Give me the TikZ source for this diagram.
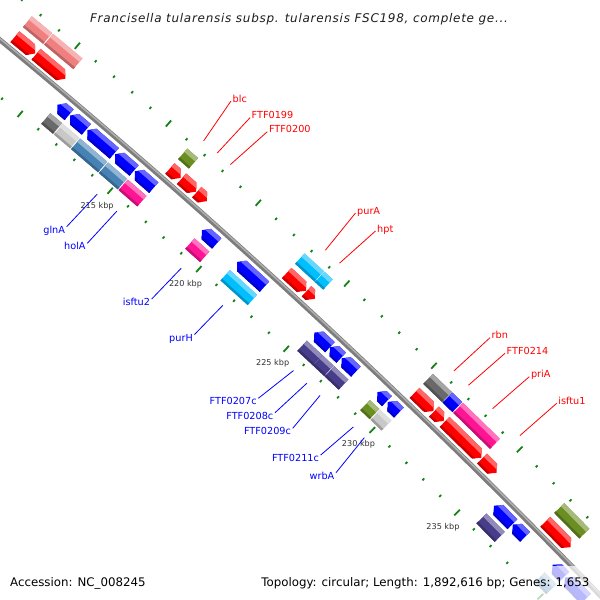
\documentclass[tikz,border=0pt]{standalone}
\usepackage{fontspec}
\setmainfont{DejaVu Sans}
\usetikzlibrary{calc}
\definecolor{gred}{RGB}{255,0,0}
\definecolor{gblue}{RGB}{0,0,255}
\definecolor{csalmon}{RGB}{240,128,128}
\definecolor{colive}{RGB}{107,142,35}
\definecolor{ccyan}{RGB}{0,191,255}
\definecolor{cdgray}{RGB}{105,105,105}
\definecolor{clgray}{RGB}{200,200,200}
\definecolor{csteel}{RGB}{70,130,180}
\definecolor{cpink}{RGB}{255,20,147}
\definecolor{cslate}{RGB}{72,61,139}
\definecolor{tickgreen}{RGB}{20,130,20}
\definecolor{kbpgray}{RGB}{50,50,50}
\def\gw{7}
% gene: start kbp, end kbp, radius, shape (f/r/b), colour
\newcommand\gene[5]{%
  \edef\ga{\fpeval{round(49.045-(((#1)+(#2))/2-215)*0.190213,5)}}%
  \edef\gh{\fpeval{round(((#2)-(#1))*0.00165993*(#3),3)}}%
  \edef\gx{\fpeval{round(-4562+(#3)*cosd(\ga),3)}}%
  \edef\gy{\fpeval{round(-5574+(#3)*sind(\ga),3)}}%
  \edef\gt{\fpeval{round(min(6,1.2*\gh),3)}}%
  \edef\gb{\fpeval{round(\gh-\gt,3)}}%
  \if#4f\def\gp{(-\gh,-\gw) -- (\gb,-\gw) -- (\gh,0) -- (\gb,\gw) -- (-\gh,\gw) -- cycle}\fi
  \if#4r\def\gp{(\gh,-\gw) -- (-\gb,-\gw) -- (-\gh,0) -- (-\gb,\gw) -- (\gh,\gw) -- cycle}\fi
  \if#4b\def\gp{(-\gh,-\gw) -- (\gh,-\gw) -- (\gh,\gw) -- (-\gh,\gw) -- cycle}\fi
  \begin{scope}[shift={(\gx,\gy)},rotate=\ga-90]
    \clip \gp;
    \fill[#5] (-\gh-1,-\gw-1) rectangle (\gh+1,\gw+1);
    \fill[#5!60!white] (-\gh-1,0.35*\gw) rectangle (\gh+1,\gw+1);
    \fill[#5!78!black] (-\gh-1,-\gw-1) rectangle (\gh+1,-0.65*\gw);
  \end{scope}}
% tick marks on both rulers
\newcommand\tickpair[1]{%
  \edef\ta{\fpeval{49.045-(#1-215)*0.190213}}%
  \ifnum\fpeval{#1-5*trunc(#1/5)}=0 \def\tl{4}\else\def\tl{1.3}\fi
  \foreach \rr in {7128,7217}{%
    \edef\xa{\fpeval{round(-4562+(\rr-\tl)*cosd(\ta),3)}}%
    \edef\ya{\fpeval{round(-5574+(\rr-\tl)*sind(\ta),3)}}%
    \edef\xb{\fpeval{round(-4562+(\rr+\tl)*cosd(\ta),3)}}%
    \edef\yb{\fpeval{round(-5574+(\rr+\tl)*sind(\ta),3)}}%
    \draw[tickst] (\xa,\ya) -- (\xb,\yb);}}
% kbp label
\newcommand\kbp[1]{%
  \edef\ta{\fpeval{49.045-(#1-215)*0.190213}}%
  \edef\xa{\fpeval{round(-4562+7108*cosd(\ta),3)}}%
  \edef\ya{\fpeval{round(-5574+7108*sind(\ta),3)}}%
  \node[kbpst] (k#1) at (\xa,\ya) {#1 kbp};}
% outer label: name, mid kbp, end x, end y (screen), text
\newcommand\labout[5]{%
  \edef\ta{\fpeval{49.045-(#2-215)*0.190213}}%
  \edef\xa{\fpeval{round(-4562+7227*cosd(\ta),3)}}%
  \edef\ya{\fpeval{round(-5574+7227*sind(\ta),3)}}%
  \coordinate (#1-s) at (\xa,\ya);
  \coordinate (#1-e) at (#3,-#4);
  \node[outlab,anchor=base west] (#1) at ($(#1-e)+(1.5,-1)$) {#5};
  \draw[redline] (#1-s) -- (#1-e);}
\newcommand\labin[5]{%
  \edef\ta{\fpeval{49.045-(#2-215)*0.190213}}%
  \edef\xa{\fpeval{round(-4562+7117*cosd(\ta),3)}}%
  \edef\ya{\fpeval{round(-5574+7117*sind(\ta),3)}}%
  \coordinate (#1-s) at (\xa,\ya);
  \coordinate (#1-e) at (#3,-#4);
  \node[inlab,anchor=base east] (#1) at ($(#1-e)+(-1.5,-6.5)$) {#5};
  \draw[blueline] (#1-s) -- (#1-e);}
\tikzset{
  tickst/.style={draw=tickgreen,line width=1.8pt},
  kbpst/.style={font=\fontsize{8.1}{9}\selectfont,text=kbpgray,inner sep=0pt},
  outlab/.style={font=\fontsize{9.7}{11}\selectfont,text=gred,inner sep=0pt},
  inlab/.style={font=\fontsize{9.7}{11}\selectfont,text=gblue,inner sep=0pt},
  redline/.style={draw=gred,line width=0.8pt},
  blueline/.style={draw=gblue,line width=0.8pt},
  legend/.style={font=\fontsize{11.8}{13}\selectfont,text=black,inner sep=0pt},
}
\begin{document}
\begin{tikzpicture}[x=1pt,y=1pt]
\useasboundingbox (0,-600) rectangle (600,0);
\clip (0,-600) rectangle (600,0);
\fill[white] (0,-600) rectangle (600,0);
% rulers
\foreach \k in {205,...,243}{\tickpair{\k}}
% backbone
\edef\bx{\fpeval{round(-4562+7172*cosd(51),3)}}
\edef\by{\fpeval{round(-5574+7172*sind(51),3)}}
\draw[line width=5pt,draw={rgb,255:red,125;green,125;blue,125}] (\bx,\by) arc[start angle=51,end angle=43.5,radius=7172pt];
\edef\bx{\fpeval{round(-4562+7173*cosd(51),3)}}
\edef\by{\fpeval{round(-5574+7173*sind(51),3)}}
\draw[line width=1.5pt,draw={rgb,255:red,175;green,175;blue,175}] (\bx,\by) arc[start angle=51,end angle=43.5,radius=7173pt];
% forward genes
\gene{207.75}{208.85}{7184}{f}{gred}
\gene{208.9}{210.5}{7184}{f}{gred}
\gene{216.28}{216.88}{7184}{f}{gred}
\gene{216.93}{217.75}{7184}{f}{gred}
\gene{217.78}{218.35}{7184}{f}{gred}
\gene{222.85}{223.95}{7184}{f}{gred}
\gene{223.98}{224.45}{7184}{f}{gred}
\gene{230.2}{231.3}{7184}{f}{gred}
\gene{231.33}{231.9}{7184}{f}{gred}
\gene{231.95}{234.1}{7184}{f}{gred}
\gene{234.15}{235.0}{7184}{f}{gred}
\gene{237.9}{239.4}{7184}{f}{gred}
% forward COG track
\gene{207.75}{208.85}{7203.5}{b}{csalmon}
\gene{208.9}{210.5}{7203.5}{b}{csalmon}
\gene{216.28}{216.88}{7203.5}{b}{colive}
\gene{222.85}{223.95}{7203.5}{b}{ccyan}
\gene{223.98}{224.45}{7203.5}{b}{ccyan}
\gene{230.2}{231.3}{7203.5}{b}{cdgray}
\gene{231.33}{231.9}{7203.5}{b}{gblue}
\gene{231.95}{234.1}{7203.5}{b}{cpink}
\gene{237.9}{239.4}{7203.5}{b}{colive}
% reverse genes
\gene{210.95}{211.6}{7159}{r}{gblue}
\gene{211.65}{212.55}{7159}{r}{gblue}
\gene{212.6}{214.1}{7159}{r}{gblue}
\gene{214.15}{215.2}{7159}{r}{gblue}
\gene{215.25}{216.3}{7159}{r}{gblue}
\gene{219.0}{219.84}{7159}{r}{gblue}
\gene{221.0}{222.55}{7159}{r}{gblue}
\gene{225.4}{226.3}{7159}{r}{gblue}
\gene{226.3}{226.95}{7159}{r}{gblue}
\gene{226.98}{227.8}{7159}{r}{gblue}
\gene{229.05}{229.6}{7159}{r}{gblue}
\gene{229.65}{230.3}{7159}{r}{gblue}
\gene{235.9}{237.0}{7159}{r}{gblue}
\gene{237.02}{237.75}{7159}{r}{gblue}
\gene{239.4}{240.1}{7159}{r}{gblue}
\gene{240.15}{241.4}{7159}{r}{gblue}
% reverse COG track
\gene{210.95}{211.6}{7141}{b}{cdgray}
\gene{211.65}{212.55}{7141}{b}{clgray}
\gene{212.6}{214.1}{7141}{b}{csteel}
\gene{214.15}{215.2}{7141}{b}{csteel}
\gene{215.25}{216.3}{7141}{b}{cpink}
\gene{219.0}{219.84}{7141}{b}{cpink}
\gene{221.0}{222.55}{7141}{b}{ccyan}
\gene{225.4}{226.3}{7141}{b}{cslate}
\gene{226.3}{226.95}{7141}{b}{cslate}
\gene{226.98}{227.8}{7141}{b}{cslate}
\gene{229.05}{229.6}{7141}{b}{colive}
\gene{229.65}{230.3}{7141}{b}{clgray}
\gene{235.9}{237.0}{7141}{b}{cslate}
\gene{239.4}{240.1}{7141}{b}{csteel}
% kbp labels
\foreach \k in {215,220,225,230,235}{\kbp{\k}}
% gene labels
\labout{blc}{216.58}{231}{101}{blc}
\labout{f199}{217.34}{250}{117.7}{FTF0199}
\labout{f200}{218.07}{267.3}{131.7}{FTF0200}
\labout{purA}{223.4}{355.5}{213}{purA}
\labout{hpt}{224.2}{375.5}{231}{hpt}
\labout{rbn}{230.75}{490}{337.7}{rbn}
\labout{f214}{231.6}{505}{353.3}{FTF0214}
\labout{priA}{233.0}{529.3}{376.7}{priA}
\labout{isftu1}{234.6}{556.7}{403.3}{isftu1}
\labin{glnA}{214.68}{66.7}{226.7}{glnA}
\labin{holA}{215.78}{87.3}{243.3}{holA}
\labin{isftu2}{219.42}{151.7}{299}{isftu2}
\labin{purH}{221.78}{194.5}{334.5}{purH}
\labin{f207}{225.85}{258.3}{398.3}{FTF0207c}
\labin{f208}{226.63}{275}{412.7}{FTF0208c}
\labin{f209}{227.39}{292.7}{428.3}{FTF0209c}
\labin{f211}{229.33}{320.7}{455}{FTF0211c}
\labin{wrbA}{229.98}{336}{472.7}{wrbA}
% legend
\fill[white,opacity=0.72] (256,-566) rectangle (600,-600);
\node[legend,anchor=base west] (acc) at (10,-586.5) {Accession: NC\_008245};
\node[legend,anchor=base east] (topo) at (589.5,-586.5) {Topology: circular; Length: 1,892,616 bp; Genes: 1,653};
\node[anchor=base,inner sep=0pt,font=\fontsize{12}{14}\selectfont\itshape\addfontfeature{LetterSpace=6},text={rgb,255:red,30;green,30;blue,30}] (title) at (299,-22.7) {Francisella tularensis subsp. tularensis FSC198, complete ge...};
\end{tikzpicture}
\end{document}
